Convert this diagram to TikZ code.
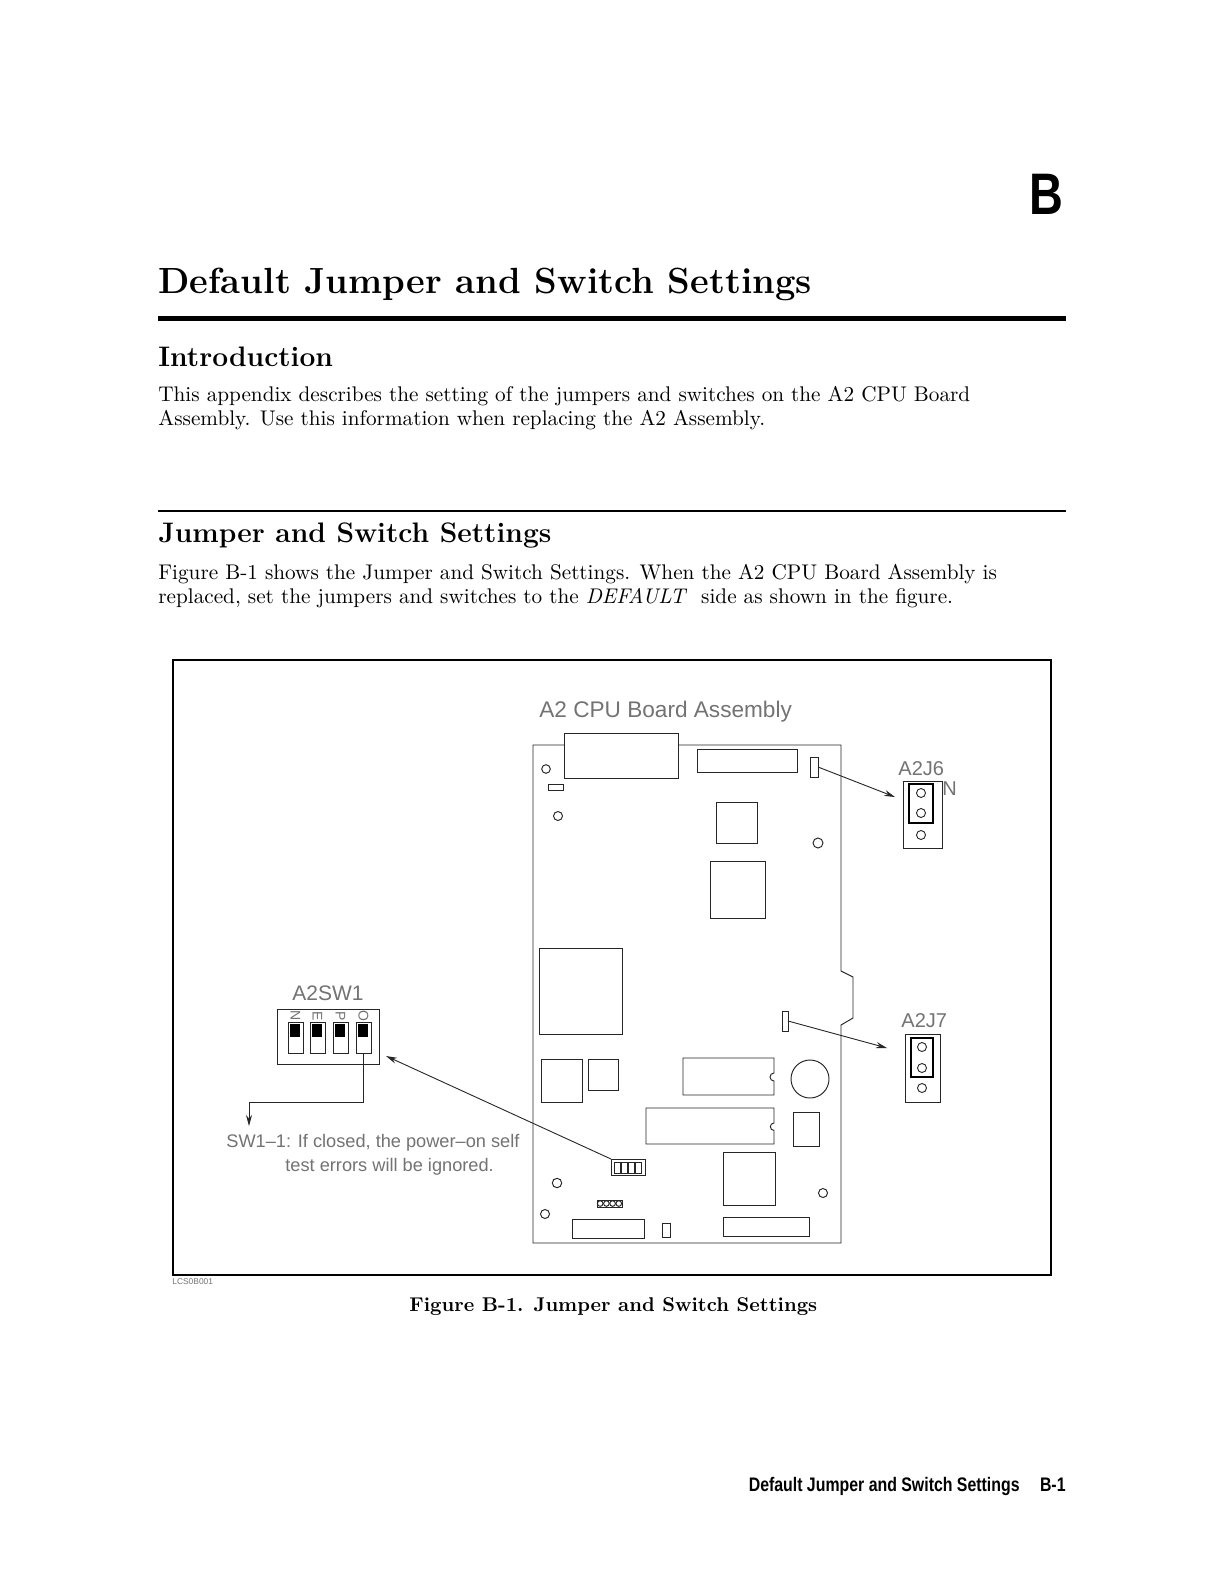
\documentclass[tikz,border=0pt]{standalone}
\usepackage{fontspec}
\newfontfamily\figfont{Liberation Sans}
\usetikzlibrary{arrows.meta}
\begin{document}
\begin{tikzpicture}[x=0.5pt,y=-0.5pt,
  part/.style={draw=black!85, line width=0.48pt},
  lead/.style={draw=black!85, line width=0.45pt, -{Stealth[length=5.5pt,width=3pt]}},
  figtext/.style={text=black!55, inner sep=0pt, anchor=base west},
  body/.style={anchor=base west, inner sep=0pt, font=\fontsize{10.6}{12}\selectfont},
  head/.style={anchor=base west, inner sep=0pt, font=\fontsize{14.1}{16}\selectfont\bfseries},
  hpsans/.style={inner sep=0pt, anchor=base east},
  jbox/.style={draw=black!85, line width=0.5pt},
  jlink/.style={draw=black, line width=0.9pt},
  pin/.style={draw=black!85, line width=0.45pt}]
\useasboundingbox (0,0) rectangle (1224,1584);
\fill[white] (0,0) rectangle (1224,1584);

% ---------- page text ----------
\node[hpsans, font=\figfont\bfseries\fontsize{29.3}{30}\selectfont] (chap) at (1064,214) {\scalebox{0.8}[1]{B}};
\node[anchor=base west, inner sep=0pt, font=\fontsize{18.2}{20}\selectfont\bfseries] (ttl) at (158,293) {Default Jumper and Switch Settings};
\fill (158,316) rectangle (1066,321);
\node[head] (intro) at (158,366) {Introduction};
\node[body] (b1) at (158,401) {This appendix describes the setting of the jumpers and switches on the A2 CPU Board};
\node[body] (b2) at (158,425) {Assembly.  Use this information when replacing the A2 Assembly.};
\draw[line width=0.6pt] (158,511) -- (1066,511);
\node[head] (jss) at (158,542) {Jumper and Switch Settings};
\node[body] (b3) at (158,579) {Figure B-1 shows the Jumper and Switch Settings.  When the A2 CPU Board Assembly is};
\node[body] (b4) at (158,603) {replaced, set the jumpers and switches to the \textit{DEFAULT}\ \ side as shown in the figure.};

% ---------- figure frame ----------
\draw[line width=1pt] (173,660) rectangle (1051,1275);
\node[anchor=base west, inner sep=0pt, text=black!55, font=\figfont\fontsize{4.2}{5}\selectfont] (code) at (172,1284) {LCS0B001};
\node[anchor=base west, inner sep=0pt, font=\fontsize{9.95}{12}\selectfont\bfseries] (cap) at (409,1311) {Figure B-1. Jumper and Switch Settings};

% ---------- footer ----------
\node[hpsans, font=\figfont\bfseries\fontsize{9.8}{11}\selectfont] (foot) at (1020,1491) {\scalebox{0.81}[1]{Default Jumper and Switch Settings}};
\node[hpsans, font=\figfont\bfseries\fontsize{9.8}{11}\selectfont] (pg) at (1066,1491) {\scalebox{0.81}[1]{B-1}};

% ---------- board ----------
\node[figtext, font=\figfont\fontsize{11.3}{12}\selectfont] (boardlbl) at (539,717) {A2 CPU Board Assembly};
\draw[part] (564,745) -- (533,745) -- (533,1243) -- (841,1243) -- (841,1025) -- (853,1018) -- (853,977) -- (841,971) -- (841,745) -- (678,745);
\draw[part] (564,733) rectangle (678,778);
\draw[part] (697,749) rectangle (797,772);
\draw[part] (810,757) rectangle (818,777);
\draw[part] (546,769) circle[radius=4.3];
\draw[part] (548,784) rectangle (563,790);
\draw[part] (558,816) circle[radius=4.5];
\draw[part] (716,802) rectangle (757,843);
\draw[part] (818,843) circle[radius=5];
\draw[part] (710,861) rectangle (765,918);
\draw[part] (539,948) rectangle (622,1034);
\draw[part] (782,1011) rectangle (788,1031);
\draw[part] (541,1059) rectangle (582,1102);
\draw[part] (588,1059) rectangle (618,1090);
\draw[part] (683,1058) -- (774,1058) -- (774,1073) arc[start angle=270, end angle=90, radius=4] -- (774,1095) -- (683,1095) -- cycle;
\draw[part] (810,1079) circle[radius=19];
\draw[part] (646,1108) -- (774,1108) -- (774,1123) arc[start angle=270, end angle=90, radius=3.7] -- (774,1144) -- (646,1144) -- cycle;
\draw[part] (793,1112) rectangle (819,1146);
\draw[part] (611,1159) rectangle (645,1175);
\foreach \a in {614.5,621.5,628.5,635.5} \draw[part] (\a,1162) rectangle ++(5.5,11);
\draw[part] (723,1152) rectangle (775,1205);
\draw[part] (557,1183) circle[radius=4.7];
\draw[part] (823,1193) circle[radius=4.5];
\draw[part] (597,1200) rectangle (622,1207);
\foreach \a in {600.2,606.4,612.6,618.8} \draw[part] (\a,1203.5) circle[radius=2.8];
\draw[part] (545,1214) circle[radius=4.5];
\draw[part] (572,1219) rectangle (644,1238);
\draw[part] (662,1223) rectangle (670,1237);
\draw[part] (723,1217) rectangle (809,1236);

% ---------- A2J6 ----------
\node[figtext, font=\figfont\fontsize{10}{11}\selectfont] (j6lbl) at (898,775) {A2J6};
\node[figtext, font=\figfont\fontsize{10}{11}\selectfont] (j6n) at (942,795) {N};
\draw[jbox] (903,781) rectangle (942,848);
\draw[jlink] (909,784) rectangle (933,823);
\foreach \b in {793,813,835} \draw[pin] (921,\b) circle[radius=4.5];
\coordinate (j6src) at (818,767);
\coordinate (j6dst) at (895,797);
\draw[lead] (j6src) -- (j6dst);

% ---------- A2J7 ----------
\node[figtext, font=\figfont\fontsize{10}{11}\selectfont] (j7lbl) at (901,1027) {A2J7};
\draw[jbox] (905,1034) rectangle (940,1102);
\draw[jlink] (911,1038) rectangle (933,1077);
\foreach \b in {1047,1068,1088} \draw[pin] (922,\b) circle[radius=4.5];
\coordinate (j7src) at (788,1021);
\coordinate (j7dst) at (887,1048);
\draw[lead] (j7src) -- (j7dst);

% ---------- A2SW1 ----------
\node[figtext, font=\figfont\fontsize{10.5}{11}\selectfont] (swlbl) at (292,1000) {A2SW1};
\draw[jbox] (277,1009) rectangle (379,1064);
\foreach \x/\l in {288/N,310/E,333/P,356/O}{
  \draw[part] (\x,1022) rectangle ++(15,31);
  \fill (\x+2,1023.5) rectangle ++(10,13);
  \node[text=black!55, inner sep=0pt, rotate=-90, font=\figfont\fontsize{7}{7}\selectfont] at (\x+7.5,1016) {\l};
}
\coordinate (swsrc) at (611,1159);
\coordinate (swdst) at (386,1056);
\draw[lead] (swsrc) -- (swdst);
\coordinate (sw4) at (363.5,1053);
\coordinate (swnote) at (249,1126);
\draw[lead] (sw4) -- (363.5,1102) -- (249,1102) -- (swnote);
\node[figtext, font=\figfont\fontsize{9.1}{10}\selectfont] (note1) at (226,1147) {SW1–1: If closed, the power–on self};
\node[figtext, font=\figfont\fontsize{9.1}{10}\selectfont] (note2) at (285,1171) {test errors will be ignored.};
\end{tikzpicture}
\end{document}
